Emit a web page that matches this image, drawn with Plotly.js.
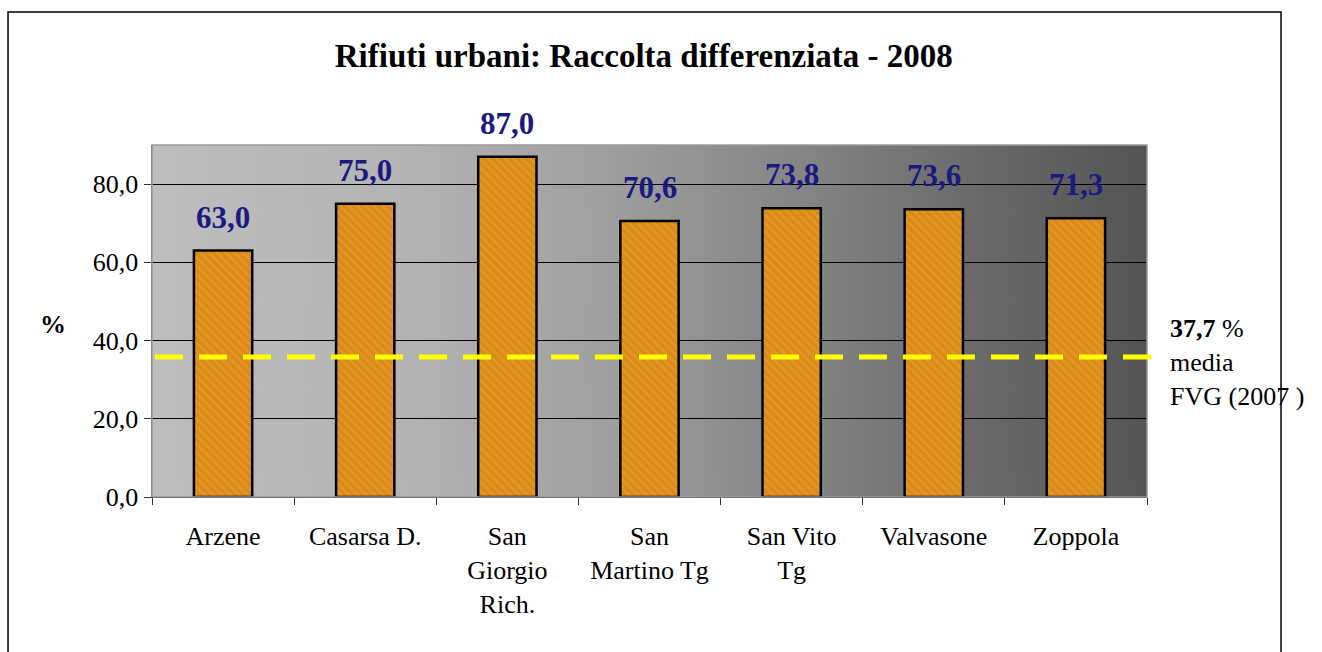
<!DOCTYPE html>
<html>
<head>
<meta charset="utf-8">
<script src="https://cdn.plot.ly/plotly-3.0.1.min.js"></script>
<style>
html,body{margin:0;padding:0;background:#fff;}
#chart{width:1322px;height:652px;}
</style>
</head>
<body>
<div id="chart"></div>
<script>
// ---- data ----
const categories = ["Arzene", "Casarsa D.", "San<br>Giorgio<br>Rich.", "San<br>Martino Tg", "San Vito<br>Tg", "Valvasone", "Zoppola"];
const values = [63.0, 75.0, 87.0, 70.6, 73.8, 73.6, 71.3];
const valueLabels = ["63,0", "75,0", "87,0", "70,6", "73,8", "73,6", "71,3"];
const fvgLevel = 35.8;           // position of the dashed line as drawn
const fvgLabel = "37,7";
const yTickVals = [0, 20, 40, 60, 80];
const yTickText = ["0,0", "20,0", "40,0", "60,0", "80,0"];

// ---- background gradient image ----
const cv = document.createElement("canvas");
cv.width = 600; cv.height = 8;
const ctx = cv.getContext("2d");
const g = ctx.createLinearGradient(0, 0, 600, 0);
g.addColorStop(0, "#bebebe");
g.addColorStop(0.25, "#b4b4b4");
g.addColorStop(0.45, "#a0a0a0");
g.addColorStop(0.65, "#858585");
g.addColorStop(0.85, "#676767");
g.addColorStop(1, "#545454");
ctx.fillStyle = g;
ctx.fillRect(0, 0, 600, 8);
const bgURL = cv.toDataURL();

const FONT = "Liberation Serif, Times New Roman, serif";

const trace = {
  type: "bar",
  x: categories,
  y: values,
  marker: {
    color: "#e08e18",
    line: {color: "#000000", width: 2.5},
    pattern: {shape: "\\", fgcolor: "#f4a43a", bgcolor: "#d98a17", size: 6, solidity: 0.4, fgopacity: 0.45}
  },
  hoverinfo: "skip"
};

const annotations = categories.map((c, i) => ({
  x: c, y: values[i], xref: "x", yref: "y",
  text: "<b>" + valueLabels[i] + "</b>",
  showarrow: false, yanchor: "bottom", yshift: 14,
  font: {family: FONT, size: 31, color: "#1a1a80"}
}));
annotations.push({
  xref: "paper", yref: "paper", x: -0.0995, y: 0.49, xanchor: "center",
  text: "<b>%</b>", showarrow: false,
  font: {family: FONT, size: 26, color: "#000"}
});
annotations.push({
  xref: "paper", yref: "y", x: 1.021, y: fvgLevel, xanchor: "left", yanchor: "middle",
  yshift: -6, align: "left",
  text: "<b>" + fvgLabel + "</b> %<br>media<br>FVG (2007 )", showarrow: false,
  font: {family: FONT, size: 26, color: "#000"}
});

const layout = {
  width: 1322, height: 652,
  margin: {l: 152, r: 175, t: 145, b: 155},
  paper_bgcolor: "#ffffff",
  plot_bgcolor: "rgba(0,0,0,0)",
  showlegend: false,
  bargap: 0.59,
  title: {
    text: "<b>Rifiuti urbani: Raccolta differenziata - 2008</b>",
    x: 0.487, xref: "container", xanchor: "center",
    y: 1 - 55 / 652, yref: "container", yanchor: "middle",
    font: {family: FONT, size: 33, color: "#000"}
  },
  xaxis: {
    type: "category",
    showgrid: false,
    showline: true, linecolor: "#000", linewidth: 1,
    ticks: "outside", tickson: "boundaries", ticklen: 7, tickcolor: "#333", tickwidth: 1,
    ticklabelstandoff: 16,
    tickfont: {family: FONT, size: 26, color: "#000"},
    fixedrange: true
  },
  yaxis: {
    range: [0, 90],
    tickvals: yTickVals, ticktext: yTickText,
    showgrid: true, gridcolor: "#000000", gridwidth: 1,
    zeroline: false,
    showline: true, linecolor: "#555", linewidth: 1.5,
    ticks: "outside", ticklen: 7, tickcolor: "#333",
    tickfont: {family: FONT, size: 26, color: "#000"},
    fixedrange: true
  },
  images: [{
    source: bgURL, xref: "paper", yref: "paper",
    x: 0, y: 1, sizex: 1, sizey: 1, sizing: "stretch",
    xanchor: "left", yanchor: "top", layer: "below"
  }],
  shapes: [
    {type: "rect", xref: "paper", yref: "paper", x0: 0, x1: 1, y0: 0, y1: 1,
     line: {color: "#9a9a9a", width: 1.5}, fillcolor: "rgba(0,0,0,0)", layer: "above"},
    {type: "line", xref: "paper", yref: "y", x0: 0.003, x1: 1.013, y0: fvgLevel, y1: fvgLevel,
     line: {color: "#ffff00", width: 5, dash: "28px,16px"}, layer: "above"},
    {type: "rect", xref: "paper", yref: "paper", x0: -0.1447, x1: 1.1347, y0: -0.5, y1: 1.378,
     line: {color: "#000", width: 1.5}, fillcolor: "rgba(0,0,0,0)"}
  ],
  annotations: annotations
};

Plotly.newPlot("chart", [trace], layout, {staticPlot: true, displayModeBar: false});
</script>
</body>
</html>
